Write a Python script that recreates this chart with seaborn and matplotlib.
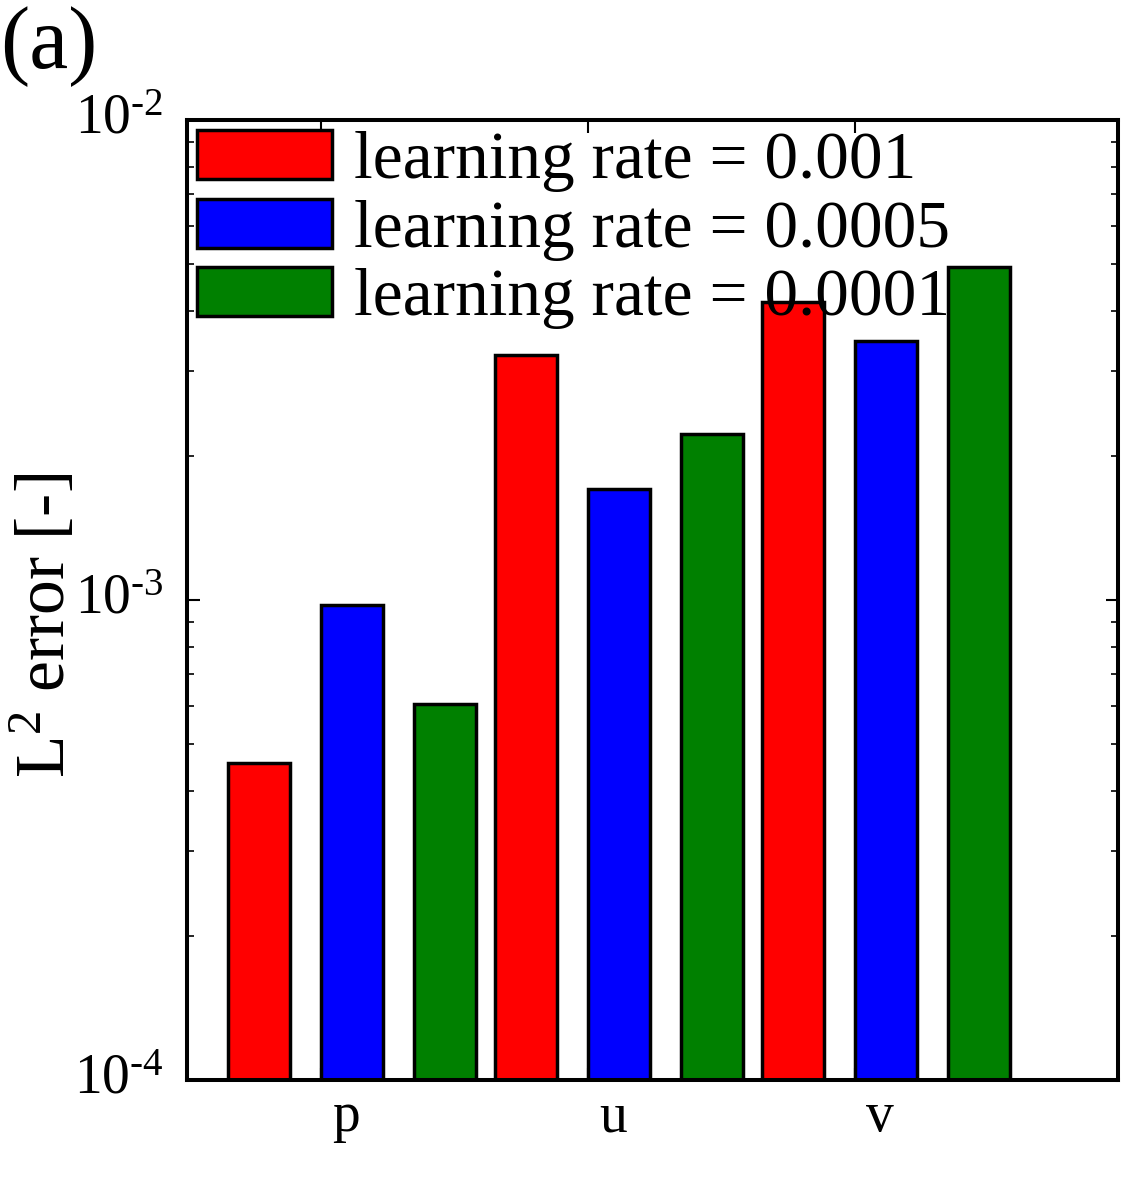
import numpy as np
import pandas as pd
import matplotlib
matplotlib.use("Agg")
import matplotlib.pyplot as plt
from matplotlib.ticker import FuncFormatter, FixedLocator
from matplotlib.transforms import ScaledTranslation
import seaborn as sns

# ---- data ----
variables = ["p", "u", "v"]
rates = ["learning rate = 0.001", "learning rate = 0.0005", "learning rate = 0.0001"]
err_lr_0001x = [4.57e-4, 3.24e-3, 4.18e-3]   # learning rate = 0.001
err_lr_00005 = [9.76e-4, 1.70e-3, 3.46e-3]   # learning rate = 0.0005
err_lr_00001 = [6.07e-4, 2.22e-3, 4.94e-3]   # learning rate = 0.0001
colors = ["#ff0000", "#0000ff", "#008000"]
y_major = [1e-4, 1e-3, 1e-2]

# ---- layout (positions) ----
offsets = [-0.232, 0.116, 0.464]
bar_w = 0.232

rows = []
for r, vals, off in zip(rates, [err_lr_0001x, err_lr_00005, err_lr_00001], offsets):
    for gi, (var, v) in enumerate(zip(variables, vals)):
        rows.append({"pos": gi + off, "err": v, "rate": r, "var": var})
df = pd.DataFrame(rows)

sns.set_style("ticks")
plt.rcParams["font.family"] = ["Liberation Serif", "DejaVu Serif"]
plt.rcParams["mathtext.fontset"] = "custom"
plt.rcParams["mathtext.rm"] = "Liberation Serif"
plt.rcParams["mathtext.it"] = "Liberation Serif:italic"
plt.rcParams["mathtext.bf"] = "Liberation Serif:bold"
plt.rcParams["axes.unicode_minus"] = False
for k in ["text.color", "axes.labelcolor", "xtick.color", "ytick.color", "axes.edgecolor"]:
    plt.rcParams[k] = "black"

fig = plt.figure(figsize=(11.47, 12), dpi=100)
ax = fig.add_axes([187 / 1147, 1 - 1080 / 1200, (1118 - 187) / 1147, (1080 - 120) / 1200])

pos_sorted = np.sort(df["pos"].unique())
native_w = np.min(np.diff(pos_sorted))

sns.barplot(data=df, x="pos", y="err", hue="rate", hue_order=rates,
            palette=colors, native_scale=True, dodge=False,
            width=bar_w / native_w, edgecolor="black", linewidth=2.5,
            errorbar=None, saturation=1, log_scale=(False, True), ax=ax)

ax.set_yscale("log")
ax.set_ylim(1e-4, 1e-2)
ax.set_xlim(-0.5, 2.985)

for s in ax.spines.values():
    s.set_linewidth(2.9)
    s.set_color("black")
    s.set_visible(True)


def log_fmt(v, _):
    e = int(round(np.log10(v)))
    sign = "\u2010" if e < 0 else ""
    return "$10^{" + sign + str(abs(e)) + "}$"


ax.yaxis.set_major_locator(FixedLocator(y_major))
ax.yaxis.set_major_formatter(FuncFormatter(log_fmt))

ax.set_xticks([0, 1, 2])
ax.set_xticklabels([])
ax.set_xticks([g + 0.095 for g in range(len(variables))], minor=True)
ax.set_xticklabels(variables, minor=True, fontsize=40)
ax.tick_params(axis="x", which="major", direction="in", top=True, bottom=True,
               length=9, width=1.5)
ax.tick_params(axis="x", which="minor", length=0, pad=8, top=False)
ax.tick_params(axis="y", which="major", direction="in", left=True, right=True,
               length=9, width=1.5, labelsize=40, pad=17)
ax.tick_params(axis="y", which="minor", direction="in", left=True, right=True,
               length=5, width=1.2)
ax.set_xlabel("")
ax.set_ylabel(r"L$^2$ error [-]", fontsize=50)
ax.yaxis.set_label_coords(-0.115, 0.473)

# raise the y tick labels slightly
shift = ScaledTranslation(0, 6 / 100, fig.dpi_scale_trans)
for lab in ax.get_yticklabels(which="major"):
    lab.set_transform(lab.get_transform() + shift)

sns.move_legend(ax, "upper left", title=None, frameon=False, fontsize=48.5,
                handlelength=2.0, handleheight=0.74, handletextpad=0.33,
                labelspacing=0.1, borderpad=0.0, borderaxespad=0.15)
leg = ax.get_legend()
for p, c in zip(leg.get_patches(), colors):
    p.set_facecolor(c)
    p.set_edgecolor("black")
    p.set_linewidth(2.5)

fig.text(0.0, 1 - 6 / 1200, "(a)", fontsize=63, ha="left", va="top")

fig.savefig("out.png", dpi=100)
